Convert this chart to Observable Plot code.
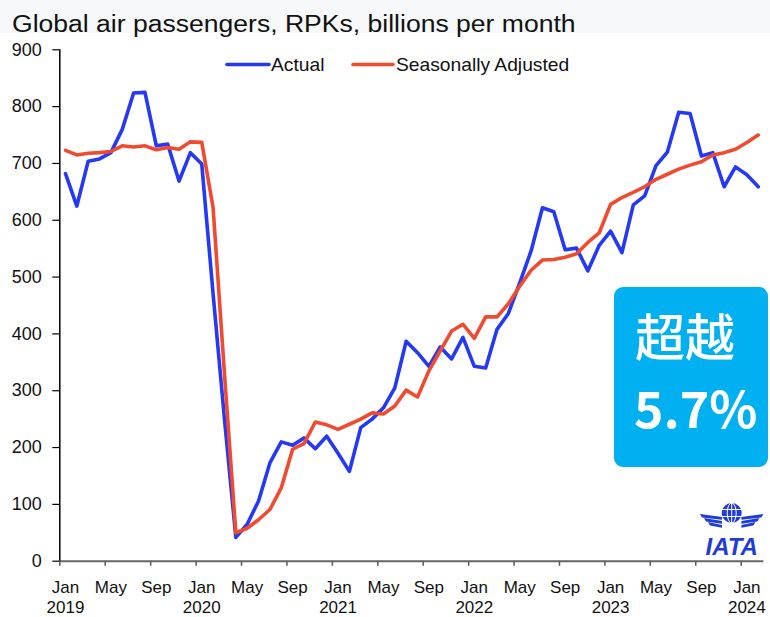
<!DOCTYPE html>
<html>
<head>
<meta charset="utf-8">
<script src="https://cdn.jsdelivr.net/npm/d3@7"></script>
<script src="https://cdn.jsdelivr.net/npm/@observablehq/plot@0.6"></script>
<style>
  html, body { margin: 0; padding: 0; background: #fff; }
  #wrap { position: relative; width: 770px; height: 617px; overflow: hidden; }
  #chart, #overlay { position: absolute; left: 0; top: 0; }
</style>
</head>
<body>
<div id="wrap">
  <div id="chart"></div>
  <svg id="overlay" width="770" height="617" xmlns="http://www.w3.org/2000/svg"></svg>
</div>
<script>
// ---- Data (monthly, Jan 2019 .. Feb 2024), billions RPK ----
const seriesNames = ["Actual", "Seasonally Adjusted"];
const actual = [
  682, 625, 704, 708, 719, 760, 824, 825, 731, 734, 669, 719,   // 2019
  699, 470, 250, 42, 65, 106, 173, 210, 204, 217, 198, 220,     // 2020
  190, 158, 235, 250, 270, 305, 387, 367, 343, 377, 356, 394,   // 2021
  343, 340, 408, 436, 490, 546, 622, 615, 548, 551, 511, 556,   // 2022
  581, 543, 627, 643, 696, 720, 790, 788, 713, 719, 659, 694,   // 2023
  680, 659                                                      // 2024
];
const seasonallyAdjusted = [
  723, 715, 718, 719, 721, 731, 729, 731, 724, 728, 725, 738,   // 2019
  737, 622, 330, 50, 58, 73, 91, 129, 197, 207, 245, 240,       // 2020
  232, 241, 250, 261, 259, 273, 301, 289, 335, 370, 405, 417,   // 2021
  392, 430, 430, 453, 484, 512, 530, 531, 535, 541, 561, 578,   // 2022
  628, 640, 649, 659, 672, 681, 690, 697, 703, 715, 719, 725,   // 2023
  737, 750                                                      // 2024
];
const yTicks = [0, 100, 200, 300, 400, 500, 600, 700, 800, 900];
const xLabelPositions = [0, 4, 8, 12, 16, 20, 24, 28, 32, 36, 40, 44, 48, 52, 56, 60];
const xTickLabels = ["Jan\n2019", "May", "Sep", "Jan\n2020", "May", "Sep", "Jan\n2021", "May", "Sep",
                     "Jan\n2022", "May", "Sep", "Jan\n2023", "May", "Sep", "Jan\n2024"];
const xBoundaryTicks = [-0.5, 3.5, 7.5, 11.5, 15.5, 19.5, 23.5, 27.5, 31.5, 35.5, 39.5, 43.5, 47.5, 51.5, 55.5, 59.5];
const titleText = "Global air passengers, RPKs, billions per month";
const badgeLine1 = "超越";
const badgeLine2 = "5.7%";

const BLUE = "#2438f5";
const RED = "#f04b30";

const xLabelData = xLabelPositions.map((p, k) => ({p, label: xTickLabels[k]}));

const chart = Plot.plot({
  width: 770,
  height: 617,
  marginLeft: 59.3,
  marginRight: 6.6,
  marginTop: 49.3,
  marginBottom: 56.3,
  x: {domain: [-0.5, actual.length - 0.5]},
  y: {domain: [0, 900]},
  style: {fontFamily: "'Liberation Sans', Arial, sans-serif", fontSize: "18px", color: "#111", background: "transparent", overflow: "visible"},
  marks: [
    Plot.axisY({ticks: yTicks, tickSize: 7, tickPadding: 11, tickFormat: d => String(d), label: null, stroke: "#000", strokeWidth: 1.2}),
    Plot.axisX({ticks: xBoundaryTicks, tickSize: 5, tickFormat: () => "", label: null, stroke: "#555", strokeWidth: 1.5}),
    Plot.text(xLabelData, {x: "p", text: "label", frameAnchor: "bottom", lineAnchor: "top", dy: 17, fontSize: 17, lineHeight: 1.2, fill: "#111"}),
    Plot.ruleY([0], {stroke: "#666", strokeWidth: 2}),
    Plot.ruleX([-0.5], {stroke: "#000", strokeWidth: 1.5}),
    Plot.lineY(actual, {x: (d, i) => i, y: d => d, stroke: BLUE, strokeWidth: 3.6, strokeLinejoin: "round", strokeLinecap: "round"}),
    Plot.lineY(seasonallyAdjusted, {x: (d, i) => i, y: d => d, stroke: RED, strokeWidth: 3.6, strokeLinejoin: "round", strokeLinecap: "round"})
  ]
});
document.getElementById("chart").append(chart);

// ---- Overlay: title, legend, badge, logo ----
const ns = "http://www.w3.org/2000/svg";
const ov = document.getElementById("overlay");
function el(tag, attrs, text) {
  const e = document.createElementNS(ns, tag);
  for (const k in attrs) e.setAttribute(k, attrs[k]);
  if (text != null) e.textContent = text;
  ov.appendChild(e);
  return e;
}
const sans = "'Liberation Sans', Arial, sans-serif";
el("rect", {x: 0, y: 0, width: 770, height: 33, fill: "#f7f8fa"});
el("text", {transform: "translate(12,31.5) scale(1.13,1)", "font-family": sans, "font-size": 23.5, fill: "#111"}, titleText);

// legend
el("line", {x1: 227, y1: 64.5, x2: 269, y2: 64.5, stroke: BLUE, "stroke-width": 3.6, "stroke-linecap": "round"});
el("text", {transform: "translate(271,71) scale(1.1,1)", "font-family": sans, "font-size": 17.5, fill: "#111"}, seriesNames[0]);
el("line", {x1: 353, y1: 64.5, x2: 393, y2: 64.5, stroke: RED, "stroke-width": 3.6, "stroke-linecap": "round"});
el("text", {transform: "translate(396,71) scale(1.1,1)", "font-family": sans, "font-size": 17.5, fill: "#111"}, seriesNames[1]);

// badge
el("rect", {x: 614, y: 287, width: 154, height: 180, rx: 9, fill: "#00b0f0"});
el("text", {x: 635, y: 356, "font-family": "'Noto Sans CJK SC', sans-serif", "font-size": 50, "font-weight": 500, fill: "#fff"}, badgeLine1);
el("text", {x: 634, y: 428, "font-family": "'Noto Sans CJK SC', sans-serif", "font-size": 50, "font-weight": 700, fill: "#fff"}, badgeLine2);

// IATA logo
const LB = "#1f3bd8";
el("circle", {cx: 731.7, cy: 513, r: 10, fill: LB});
el("ellipse", {cx: 731.7, cy: 513, rx: 4.5, ry: 10, fill: "none", stroke: "#fff", "stroke-width": 1});
el("line", {x1: 731.7, y1: 503, x2: 731.7, y2: 523, stroke: "#fff", "stroke-width": 1});
el("line", {x1: 722, y1: 509.5, x2: 741.4, y2: 509.5, stroke: "#fff", "stroke-width": 1});
el("line", {x1: 722, y1: 516.5, x2: 741.4, y2: 516.5, stroke: "#fff", "stroke-width": 1});
for (let k = 0; k < 3; k++) {
  const y = 517 + k * 4;
  el("path", {d: `M722,${y} L${700 + k * 4},${y - 3} L${702 + k * 4},${y + 0.5} L722,${y + 2.8} Z`, fill: LB});
  el("path", {d: `M741.4,${y} L${763.4 - k * 4},${y - 3} L${761.4 - k * 4},${y + 0.5} L741.4,${y + 2.8} Z`, fill: LB});
}
el("text", {x: 731.7, y: 555, "text-anchor": "middle", "font-family": sans, "font-size": 24, "font-weight": 700, "font-style": "italic", fill: LB}, "IATA");
</script>
</body>
</html>
